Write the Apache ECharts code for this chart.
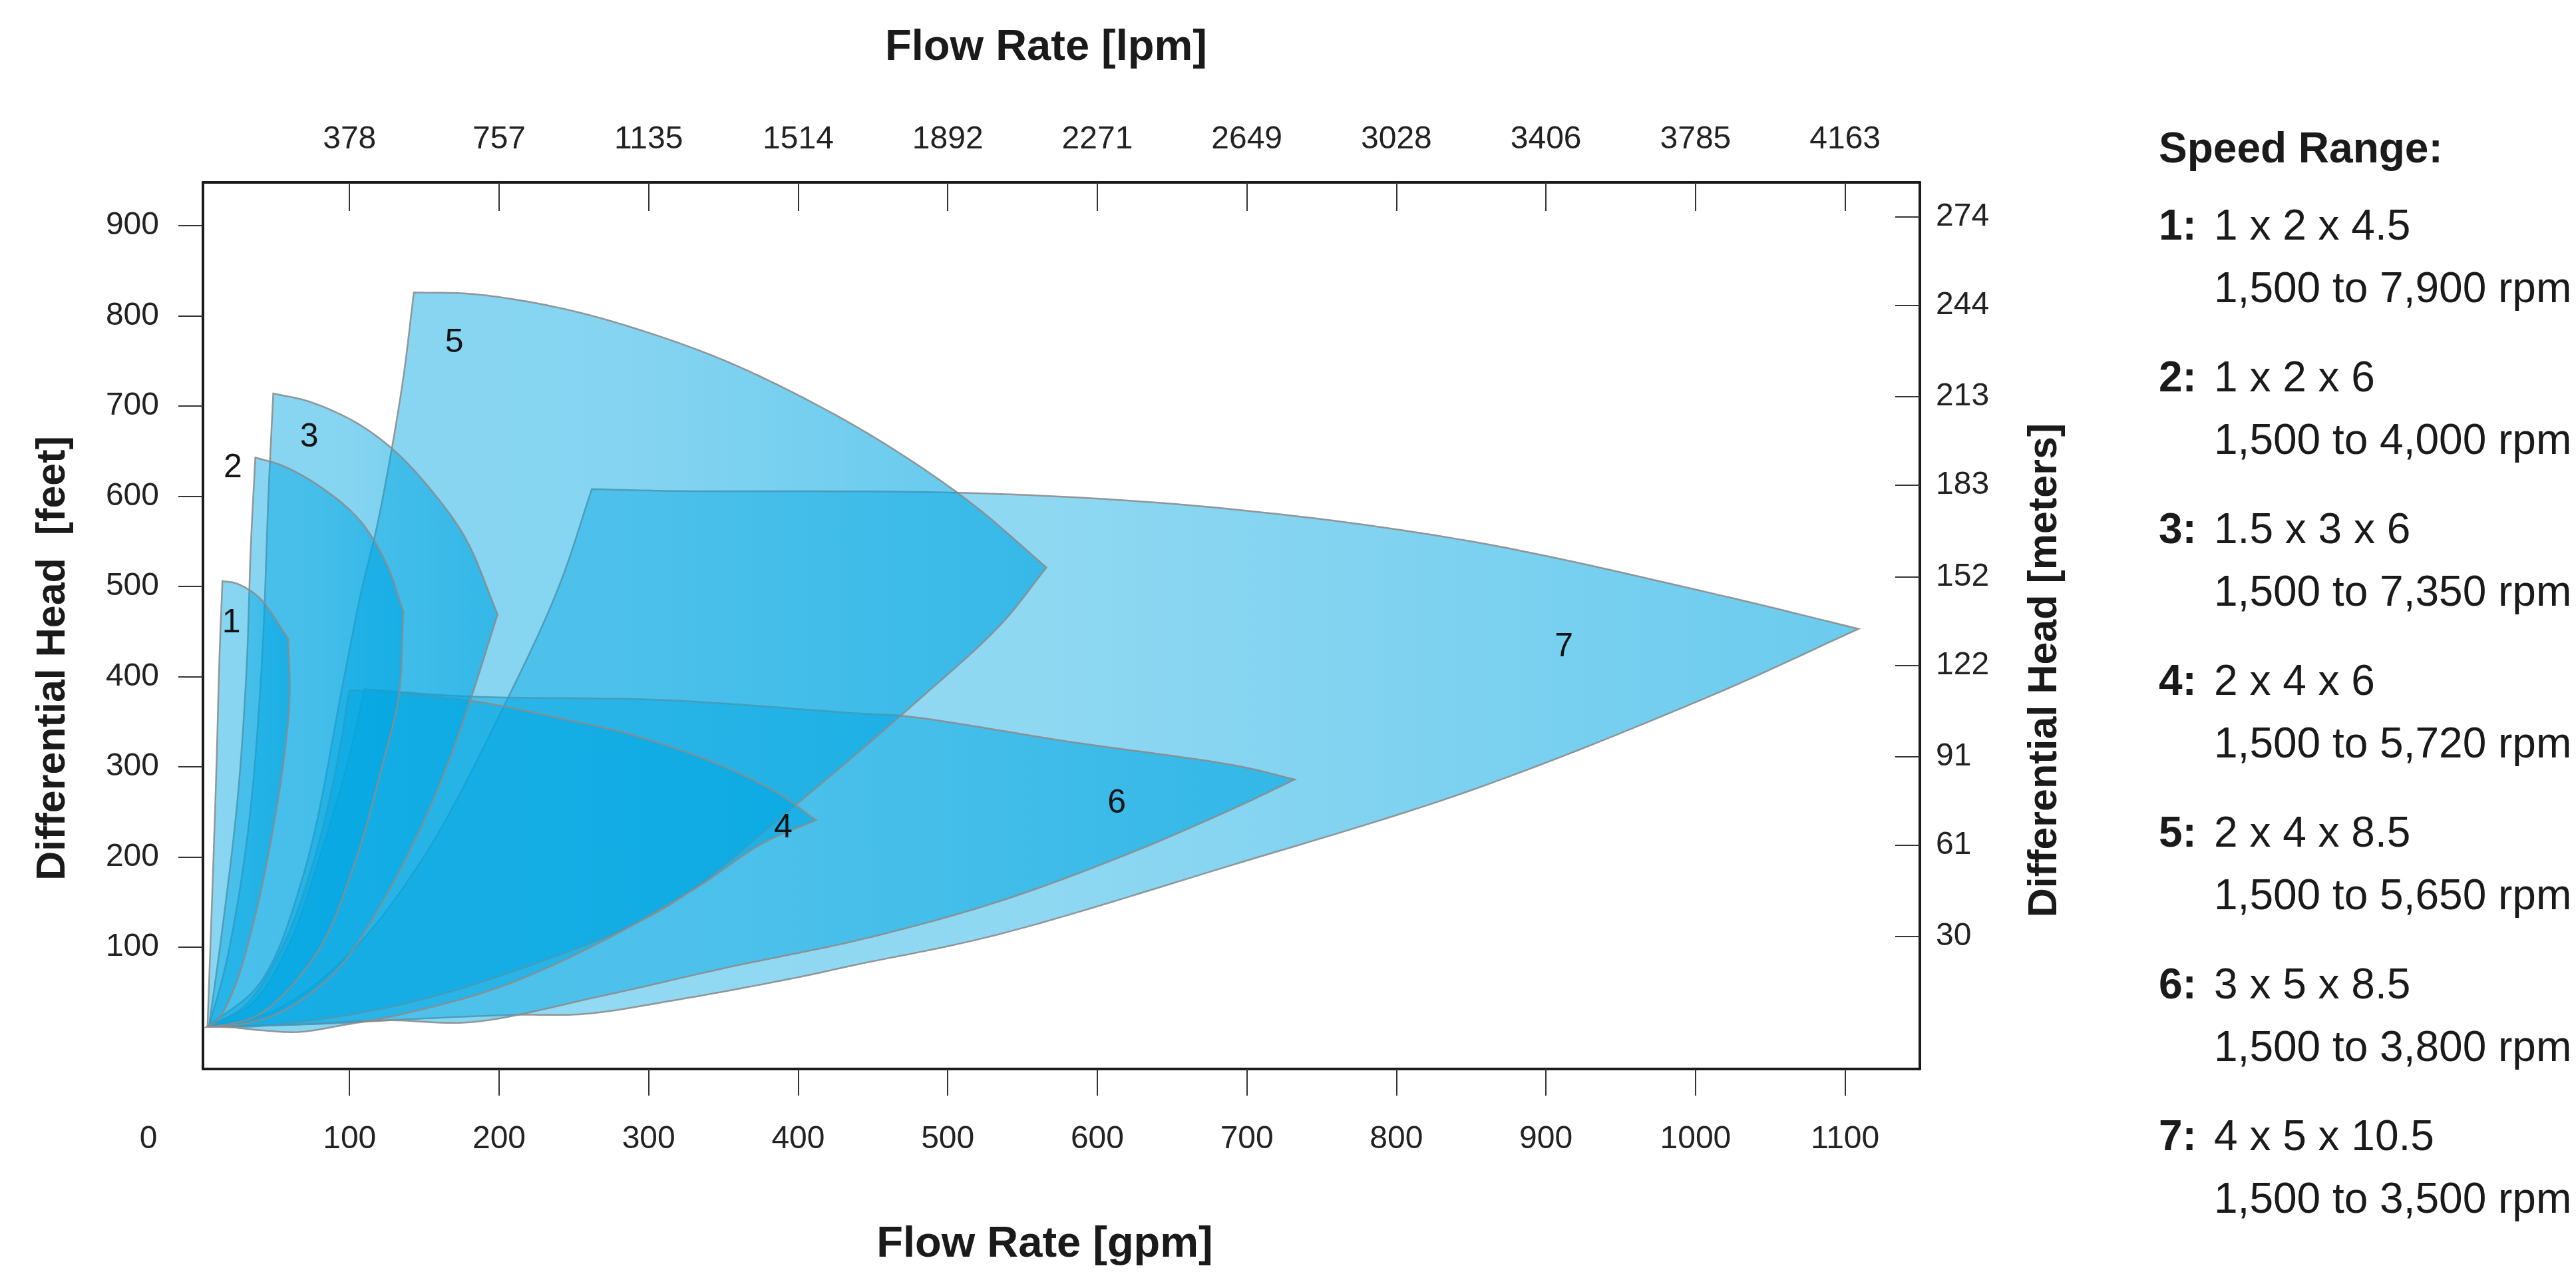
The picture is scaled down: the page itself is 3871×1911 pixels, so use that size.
<!DOCTYPE html>
<html>
<head>
<meta charset="utf-8">
<script src="https://cdn.jsdelivr.net/npm/echarts@6/dist/echarts.min.js"></script>
<style>
html,body{margin:0;padding:0;background:#fff;}
#chart{width:3871px;height:1911px;}
</style>
</head>
<body>
<div id="chart"></div>
<script>
// ---- Axis ticks ----
const gpmTicks = [100, 200, 300, 400, 500, 600, 700, 800, 900, 1000, 1100];
const lpmLabels = ['378', '757', '1135', '1514', '1892', '2271', '2649', '3028', '3406', '3785', '4163'];
const feetTicks = [100, 200, 300, 400, 500, 600, 700, 800, 900];
const meterTicks = [30, 61, 91, 122, 152, 183, 213, 244, 274];

// ---- Pump envelopes [gpm, feet] : left edge, top edge, lower edge ----
const p1Left = [[5,12],[8,150],[11,300],[13,420],[15,506]];
const p1Top = [[15,506],[25,503],[40,487],[59,442]];
const p1Lower = [[59,442],[60,380],[57,320],[49,232],[37,135],[23,55],[12,20],[5,12]];

const p2Left = [[6,12],[15,121],[25,262],[31,404],[34,545],[37,643]];
const p2Top = [[37,643],[55,634],[81,610],[107,573],[125,524],[136,472]];
const p2Lower = [[136,472],[133,380],[121,296],[104,196],[79,96],[42,28],[20,15],[6,12]];

const p3Left = [[6,12],[18,86],[32,227],[41,404],[46,610],[49,714]];
const p3Top = [[49,714],[73,705],[103,683],[129,652],[155,606],[178,552],[199,469]];
const p3Lower = [[199,469],[181,375],[165,300],[147,230],[122,150],[90,72],[50,25],[20,13],[6,12]];

const p4Left = [[5,12],[30,35],[55,100],[75,190],[90,290],[100,385]];
const p4Top = [[100,385],[150,379],[190,371],[243,353],[288,336],[345,304],[385,272],[412,241]];
const p4Lower = [[412,241],[376,215],[332,166],[266,104],[199,55],[133,25],[97,14],[66,6],[40,8],[22,11],[5,12]];

const p5Left = [[5,12],[40,60],[70,185],[96,396],[107,488],[118,564],[127,641],[136,732],[143,826]];
const p5Top = [[143,826],[184,824],[240,809],[295,784],[350,751],[406,707],[461,655],[516,592],[566,521]];
const p5Lower = [[566,521],[535,457],[479,372],[397,256],[311,144],[221,80],[133,36],[44,13],[5,12]];

const p6Left = [[5,12],[35,38],[60,105],[80,200],[98,300],[110,386]];
const p6Top = [[110,386],[180,378],[311,374],[442,359],[473,356],[581,328],[694,301],[732,286]];
const p6Lower = [[732,286],[694,256],[620,203],[531,149],[443,109],[354,78],[266,45],[182,17],[124,19],[60,14],[5,12]];

const p7Left = [[5,12],[50,30],[100,93],[150,201],[207,380],[240,500],[262,608]];
const p7Top = [[262,608],[311,606],[527,603],[688,586],[850,550],[1012,492],[1109,453]];
const p7Lower = [[1109,453],[1012,380],[850,274],[688,190],[531,113],[437,80],[398,66],[320,42],[257,26],[210,25],[150,21],[80,15],[5,12]];

// ---- Shape labels ----
const shapeNames = ['1', '2', '3', '4', '5', '6', '7'];
const labelPoints = [[21,459],[22,631],[73,665],[390,232],[170,770],[613,259],[912,433]];

// ---- Legend ----
const legendTitle = 'Speed Range:';
const legendModels = ['1 x 2 x 4.5', '1 x 2 x 6', '1.5 x 3 x 6', '2 x 4 x 6', '2 x 4 x 8.5', '3 x 5 x 8.5', '4 x 5 x 10.5'];
const legendSpeeds = ['1,500 to 7,900 rpm', '1,500 to 4,000 rpm', '1,500 to 7,350 rpm', '1,500 to 5,720 rpm', '1,500 to 5,650 rpm', '1,500 to 3,800 rpm', '1,500 to 3,500 rpm'];

const shapes = [
  [p1Left, p1Top, p1Lower],
  [p2Left, p2Top, p2Lower],
  [p3Left, p3Top, p3Lower],
  [p4Left, p4Top, p4Lower],
  [p5Left, p5Top, p5Lower],
  [p6Left, p6Top, p6Lower],
  [p7Left, p7Top, p7Lower]
];
const drawOrder = [6, 5, 4, 3, 2, 1, 0];

const FONT = '"Liberation Sans", Arial, Helvetica, sans-serif';

// centripetal Catmull-Rom through pixel points (rendering only)
function smoothEdge(pts, steps) {
  const n = pts.length;
  if (n < 3) return pts.slice(0, n - 1);
  const ext = [[2 * pts[0][0] - pts[1][0], 2 * pts[0][1] - pts[1][1]]].concat(pts, [[2 * pts[n - 1][0] - pts[n - 2][0], 2 * pts[n - 1][1] - pts[n - 2][1]]]);
  const out = [];
  function d(a, b) { return Math.max(1e-3, Math.pow(Math.hypot(b[0] - a[0], b[1] - a[1]), 0.5)); }
  function lerp(a, b, ta, tb, t) { const w = (t - ta) / (tb - ta); return [a[0] + (b[0] - a[0]) * w, a[1] + (b[1] - a[1]) * w]; }
  for (let i = 1; i < ext.length - 2; i++) {
    const P0 = ext[i - 1], P1 = ext[i], P2 = ext[i + 1], P3 = ext[i + 2];
    const t0 = 0, t1 = t0 + d(P0, P1), t2 = t1 + d(P1, P2), t3 = t2 + d(P2, P3);
    for (let s = 0; s < steps; s++) {
      const t = t1 + (t2 - t1) * s / steps;
      const A1 = lerp(P0, P1, t0, t1, t), A2 = lerp(P1, P2, t1, t2, t), A3 = lerp(P2, P3, t2, t3, t);
      const B1 = lerp(A1, A2, t0, t2, t), B2 = lerp(A2, A3, t1, t3, t);
      out.push(lerp(B1, B2, t1, t2, t));
    }
  }
  return out;
}

const chart = echarts.init(document.getElementById('chart'), null, {renderer: 'canvas'});

const graphics = [];
graphics.push({type: 'text', x: 1572, y: 72, style: {text: 'Flow Rate [lpm]', font: 'bold 65px ' + FONT, fill: '#1a1a1a', align: 'center', verticalAlign: 'middle'}});
graphics.push({type: 'text', x: 1570, y: 1870, style: {text: 'Flow Rate [gpm]', font: 'bold 65px ' + FONT, fill: '#1a1a1a', align: 'center', verticalAlign: 'middle'}});
graphics.push({type: 'text', x: 80, y: 989, rotation: Math.PI / 2, style: {text: 'Differential Head  [feet]', font: 'bold 61px ' + FONT, fill: '#1a1a1a', align: 'center', verticalAlign: 'middle'}});
graphics.push({type: 'text', x: 3073, y: 1007, rotation: Math.PI / 2, style: {text: 'Differential Head [meters]', font: 'bold 61px ' + FONT, fill: '#1a1a1a', align: 'center', verticalAlign: 'middle'}});
graphics.push({type: 'text', x: 223, y: 1712, style: {text: '0', font: '48px ' + FONT, fill: '#222', align: 'center', verticalAlign: 'middle'}});
graphics.push({type: 'text', x: 3244, y: 226, style: {text: legendTitle, font: 'bold 64px ' + FONT, fill: '#1a1a1a', align: 'left', verticalAlign: 'middle'}});
for (let i = 0; i < legendModels.length; i++) {
  const yc = 342 + 228 * i;
  graphics.push({type: 'text', x: 3244, y: yc, style: {text: shapeNames[i] + ':', font: 'bold 64px ' + FONT, fill: '#1a1a1a', align: 'left', verticalAlign: 'middle'}});
  graphics.push({type: 'text', x: 3327, y: yc, style: {text: legendModels[i], font: '64px ' + FONT, fill: '#1a1a1a', align: 'left', verticalAlign: 'middle'}});
  graphics.push({type: 'text', x: 3327, y: yc + 94, style: {text: legendSpeeds[i], font: '64px ' + FONT, fill: '#1a1a1a', align: 'left', verticalAlign: 'middle'}});
}

const axisLineStyle = {color: '#1a1a1a', width: 4};
const tickStyle = {color: '#333', width: 2};
const labelStyle = {fontSize: 48, fontFamily: FONT, color: '#222'};

const option = {
  animation: false,
  backgroundColor: '#fff',
  grid: {left: 305, top: 274, width: 2580, height: 1332, show: false},
  xAxis: [
    {
      type: 'value', position: 'bottom', min: 2, max: 1150,
      axisLine: {show: true, onZero: false, lineStyle: axisLineStyle},
      axisTick: {show: true, inside: false, length: 40, lineStyle: tickStyle, customValues: gpmTicks},
      axisLabel: Object.assign({margin: 82, customValues: gpmTicks, formatter: function (v) { return String(v); }}, labelStyle),
      splitLine: {show: false}
    },
    {
      type: 'value', position: 'top', min: 2, max: 1150,
      axisLine: {show: true, onZero: false, lineStyle: axisLineStyle},
      axisTick: {show: true, inside: true, length: 43, lineStyle: tickStyle, customValues: gpmTicks},
      axisLabel: Object.assign({margin: 40, customValues: gpmTicks, formatter: function (v) { const k = gpmTicks.indexOf(v); return k >= 0 ? lpmLabels[k] : ''; }}, labelStyle),
      splitLine: {show: false}
    }
  ],
  yAxis: [
    {
      type: 'value', position: 'left', min: -35, max: 948,
      axisLine: {show: true, onZero: false, lineStyle: axisLineStyle},
      axisTick: {show: true, inside: false, length: 37, lineStyle: tickStyle, customValues: feetTicks},
      axisLabel: Object.assign({margin: 66, customValues: feetTicks, formatter: function (v) { return String(v); }}, labelStyle),
      splitLine: {show: false}
    },
    {
      type: 'value', position: 'right', min: -14.9, max: 285.7,
      axisLine: {show: true, onZero: false, lineStyle: axisLineStyle},
      axisTick: {show: true, inside: true, length: 37, lineStyle: tickStyle, customValues: meterTicks},
      axisLabel: Object.assign({margin: 24, customValues: meterTicks, formatter: function (v) { return String(v); }}, labelStyle),
      splitLine: {show: false}
    }
  ],
  graphic: graphics,
  series: [
    {
      type: 'custom',
      xAxisIndex: 0, yAxisIndex: 0,
      clip: true,
      data: drawOrder.map(function (k) { return [k]; }),
      renderItem: function (params, api) {
        const k = drawOrder[params.dataIndex];
        const edges = shapes[k];
        let pts = [];
        edges.forEach(function (edge) {
          const px = edge.map(function (p) { return api.coord(p); });
          pts = pts.concat(smoothEdge(px, 14));
        });
        const light = k === 6 ? 0.42 : 0.46;
        return {
          type: 'polygon',
          shape: {points: pts},
          style: {
            fill: new echarts.graphic.LinearGradient(0, 0, 1, 0, [
              {offset: 0, color: 'rgba(0,166,226,' + light + ')'},
              {offset: 0.5, color: 'rgba(0,166,226,' + (light + 0.02) + ')'},
              {offset: 1, color: 'rgba(0,166,226,' + (light + 0.16) + ')'}
            ]),
            stroke: 'rgba(140,140,140,0.9)',
            lineWidth: 2.5
          }
        };
      }
    },
    {
      type: 'custom',
      xAxisIndex: 0, yAxisIndex: 0,
      data: labelPoints,
      renderItem: function (params, api) {
        const c = api.coord([api.value(0), api.value(1)]);
        return {
          type: 'text', x: c[0], y: c[1],
          style: {text: shapeNames[params.dataIndex], font: '50px ' + FONT, fill: '#141414', align: 'center', verticalAlign: 'middle'}
        };
      }
    }
  ]
};
chart.setOption(option);
</script>
</body>
</html>
